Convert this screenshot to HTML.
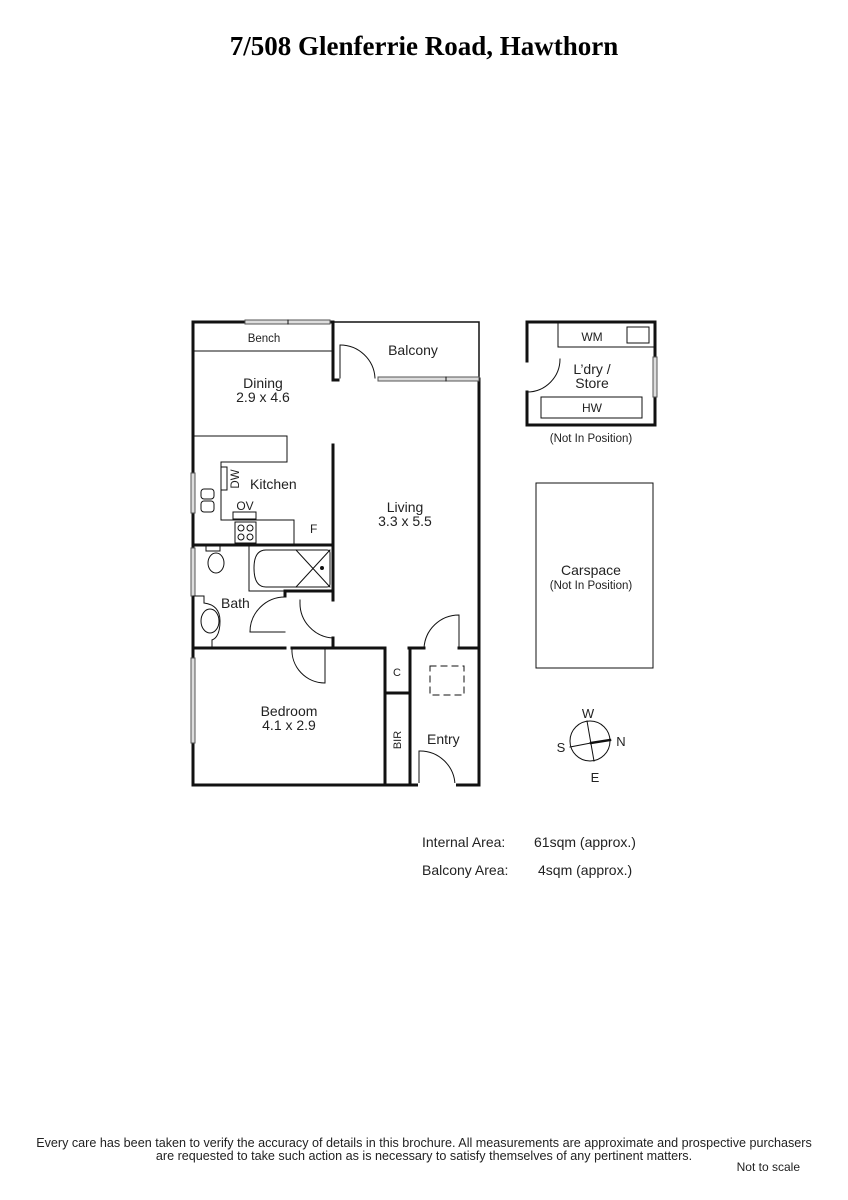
<!DOCTYPE html>
<html><head><meta charset="utf-8"><style>
html,body{margin:0;padding:0;background:#fff;}
body{width:848px;height:1200px;position:relative;overflow:hidden;}
svg{position:absolute;left:0;top:0;}
text{font-family:"Liberation Sans",sans-serif;fill:#222;}
</style></head><body>
<svg width="848" height="1200" viewBox="0 0 848 1200">
<text x="424" y="55" text-anchor="middle" style="font-family:'Liberation Serif',serif;font-weight:bold;font-size:27px;fill:#000">7/508 Glenferrie Road, Hawthorn</text>

<g fill="none" stroke="#111" stroke-linecap="square">
<path d="M193,322 H333 V380 H338" stroke-width="3"/>
<path d="M193,322 V785 H479 V379" stroke-width="3"/>
<path d="M333,445 V600" stroke-width="3"/>
<path d="M333,322 H479 V379" stroke-width="1.5"/>
<rect x="245" y="320" width="85" height="4" fill="#ddd" stroke="#555" stroke-width="1"/>
<line x1="288" y1="320" x2="288" y2="324" stroke-width="1"/>
<rect x="378" y="377" width="101" height="4" fill="#ddd" stroke="#555" stroke-width="1"/>
<line x1="446" y1="377" x2="446" y2="381" stroke-width="1"/>
<path d="M340,345 V378" stroke-width="1"/>
<path d="M340,345 A35,35 0 0 1 375,378" stroke-width="1"/>
<line x1="193" y1="351" x2="333" y2="351" stroke-width="1"/>
<rect x="191" y="473" width="4" height="40" fill="#ddd" stroke="#555" stroke-width="1"/>
<rect x="191" y="548" width="4" height="48" fill="#ddd" stroke="#555" stroke-width="1"/>
<rect x="191" y="658" width="4" height="85" fill="#ddd" stroke="#555" stroke-width="1"/>
<path d="M193,436 H287 V462 H221 V520 H294 V545" stroke-width="1"/>
<rect x="221" y="467" width="6" height="23" stroke-width="1"/>
<rect x="201" y="489" width="13" height="10" rx="3" stroke-width="1"/>
<rect x="201" y="501" width="13" height="11" rx="3" stroke-width="1"/>
<rect x="233" y="512" width="23" height="7" stroke-width="1"/>
<rect x="235" y="522" width="21" height="21" stroke-width="1"/>
<circle cx="241" cy="528" r="3" stroke-width="1"/><circle cx="250" cy="528" r="3" stroke-width="1"/>
<circle cx="241" cy="537" r="3" stroke-width="1"/><circle cx="250" cy="537" r="3" stroke-width="1"/>
<line x1="193" y1="545" x2="333" y2="545" stroke-width="3"/>
<path d="M249,545 V591" stroke-width="1"/>
<path d="M249,591 H285" stroke-width="1"/>
<path d="M285,591 V596" stroke-width="3"/>
<path d="M285,591 H333" stroke-width="3"/>
<path d="M266,550 H327 Q330,550 330,553 V584 Q330,587 327,587 H266 Q254,587 254,568 Q254,550 266,550 Z" stroke-width="1"/>
<path d="M296,550 L330,587 M330,550 L296,587" stroke-width="1"/>
<circle cx="322" cy="568" r="1.5" fill="#111"/>
<rect x="206" y="546" width="14" height="5" stroke-width="1"/>
<ellipse cx="216" cy="563" rx="8" ry="10" stroke-width="1"/>
<path d="M193,596 H204 V603 M212,640 V648" stroke-width="1"/>
<ellipse cx="210" cy="621" rx="9" ry="12" stroke-width="1"/>
<path d="M204,603 Q220,605 220,621 Q220,637 212,640" stroke-width="1"/>
<path d="M250,632 H285" stroke-width="1"/>
<path d="M250,632 A35,35 0 0 1 285,597" stroke-width="1"/>
<path d="M300,602 A35,35 0 0 0 333,638" stroke-width="1"/>
<path d="M300,602 V600" stroke-width="1"/>
<path d="M333,638 V648" stroke-width="3"/>
<path d="M193,648 H285" stroke-width="3"/>
<path d="M292,648 H333" stroke-width="3"/>
<path d="M325,648 V683" stroke-width="1"/>
<path d="M292,648 A33,33 0 0 0 325,683" stroke-width="1"/>
<path d="M333,648 H385 V785" stroke-width="3"/>
<path d="M410,648 V785" stroke-width="3"/>
<path d="M385,693 H410" stroke-width="3"/>
<path d="M409,648 H424" stroke-width="3"/>
<path d="M459,648 H479" stroke-width="3"/>
<path d="M424,648 A35,35 0 0 1 459,615 V648" stroke-width="1"/>
<path d="M419,785 V751" stroke-width="1"/>
<path d="M419,751 A35,35 0 0 1 455,785" stroke-width="1"/>
<line x1="420" y1="785" x2="454" y2="785" stroke="#fff" stroke-width="4"/>
<rect x="430" y="666" width="34" height="29" stroke-width="1" stroke-dasharray="6,5"/>
<path d="M527,322 H655 V425 H527 V392" stroke-width="3"/>
<path d="M527,322 V361" stroke-width="3"/>
<path d="M527,392 A33,33 0 0 0 560,359" stroke-width="1"/>
<path d="M558,322 V347 H655" stroke-width="1"/>
<rect x="627" y="327" width="22" height="16" stroke-width="1"/>
<rect x="541" y="397" width="101" height="21" stroke-width="1"/>
<rect x="653" y="357" width="4" height="40" fill="#ddd" stroke="#555" stroke-width="1"/>
<rect x="536" y="483" width="117" height="185" stroke-width="1"/>
<circle cx="590" cy="741" r="20" stroke-width="1"/>
<line x1="587" y1="721" x2="594" y2="761" stroke-width="1"/>
<line x1="570" y1="747" x2="591" y2="743" stroke-width="1"/>
<line x1="591" y1="743" x2="610" y2="740" stroke-width="2.5"/>
</g>

<g font-size="14">
<text x="264" y="342" text-anchor="middle" font-size="11.5">Bench</text>
<text x="413" y="355" text-anchor="middle">Balcony</text>
<text x="263" y="388" text-anchor="middle">Dining</text>
<text x="263" y="402" text-anchor="middle">2.9 x 4.6</text>
<text x="250" y="489">Kitchen</text>
<text transform="translate(239,479) rotate(-90)" text-anchor="middle" font-size="11.5">DW</text>
<text x="245" y="510" text-anchor="middle" font-size="12">OV</text>
<text x="310" y="533" font-size="12">F</text>
<text x="405" y="512" text-anchor="middle">Living</text>
<text x="405" y="526" text-anchor="middle">3.3 x 5.5</text>
<text x="221" y="608">Bath</text>
<text x="289" y="716" text-anchor="middle">Bedroom</text>
<text x="289" y="730" text-anchor="middle">4.1 x 2.9</text>
<text x="397" y="676" text-anchor="middle" font-size="11">C</text>
<text transform="translate(401,740) rotate(-90)" text-anchor="middle" font-size="11">BIR</text>
<text x="427" y="744">Entry</text>
<text x="592" y="341" text-anchor="middle" font-size="12">WM</text>
<text x="592" y="374" text-anchor="middle">L’dry /</text>
<text x="592" y="388" text-anchor="middle">Store</text>
<text x="592" y="412" text-anchor="middle" font-size="12">HW</text>
<text x="591" y="442" text-anchor="middle" font-size="11.5">(Not In Position)</text>
<text x="591" y="575" text-anchor="middle">Carspace</text>
<text x="591" y="589" text-anchor="middle" font-size="11.5">(Not In Position)</text>
<text x="588" y="718" text-anchor="middle" font-size="13">W</text>
<text x="561" y="752" text-anchor="middle" font-size="13">S</text>
<text x="621" y="746" text-anchor="middle" font-size="13">N</text>
<text x="595" y="782" text-anchor="middle" font-size="13">E</text>
<text x="422" y="847">Internal Area:</text>
<text x="534" y="847">61sqm (approx.)</text>
<text x="422" y="875">Balcony Area:</text>
<text x="538" y="875">4sqm (approx.)</text>
</g>
<g font-size="12.6">
<text x="424" y="1147" text-anchor="middle">Every care has been taken to verify the accuracy of details in this brochure.  All measurements are approximate and prospective purchasers</text>
<text x="424" y="1160" text-anchor="middle">are requested to take such action as is necessary to satisfy themselves of any pertinent matters.</text>
<text x="800" y="1171" text-anchor="end" font-size="12">Not to scale</text>
</g>
</svg>
</body></html>
